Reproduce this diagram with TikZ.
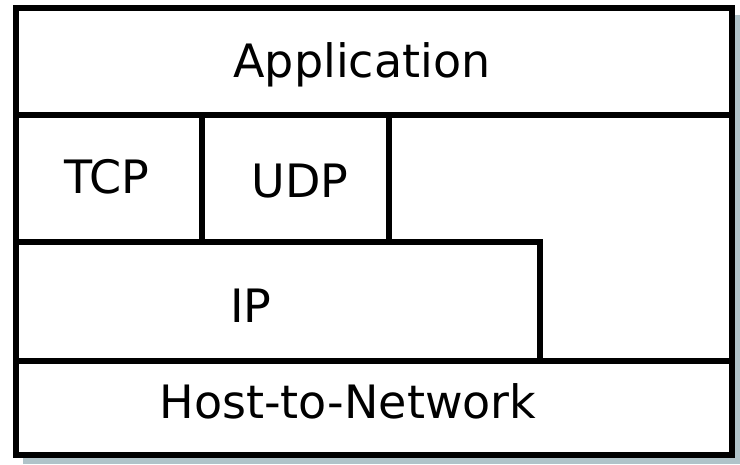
\documentclass[tikz,border=0pt]{standalone}
\usepackage{fontspec}
\setmainfont{DejaVu Sans}
\definecolor{shadowgray}{RGB}{176,195,201}
\tikzset{
  layer/.style={draw=black, line width=5.5pt, line join=miter},
  lbl/.style={inner sep=0pt, anchor=base, font=\fontsize{46}{50}\selectfont}
}
\begin{document}
\begin{tikzpicture}[x=1pt,y=-1pt]
\useasboundingbox (0,0) rectangle (740,464);
% shadow
\fill[shadowgray] (23,15) rectangle (739.5,464);
% outer frame
\filldraw[fill=white, layer] (16,8) rectangle (732,455);
% Application / transport split
\draw[layer] (16,115) -- (732,115);
% TCP and UDP boxes
\draw[layer] (202,115) -- (202,242);
\draw[layer] (389,115) -- (389,242);
% IP box
\draw[layer] (16,242) -- (540,242) -- (540,361);
\draw[layer] (16,361) -- (732,361);
% labels
\node[lbl] (app) at (362,77) {Application};
\node[lbl] (tcp) at (107,193) {TCP};
\node[lbl] (udp) at (300,197) {UDP};
\node[lbl] (ip) at (251,322) {IP};
\node[lbl] (h2n) at (348,418) {Host-to-Network};
\end{tikzpicture}
\end{document}
